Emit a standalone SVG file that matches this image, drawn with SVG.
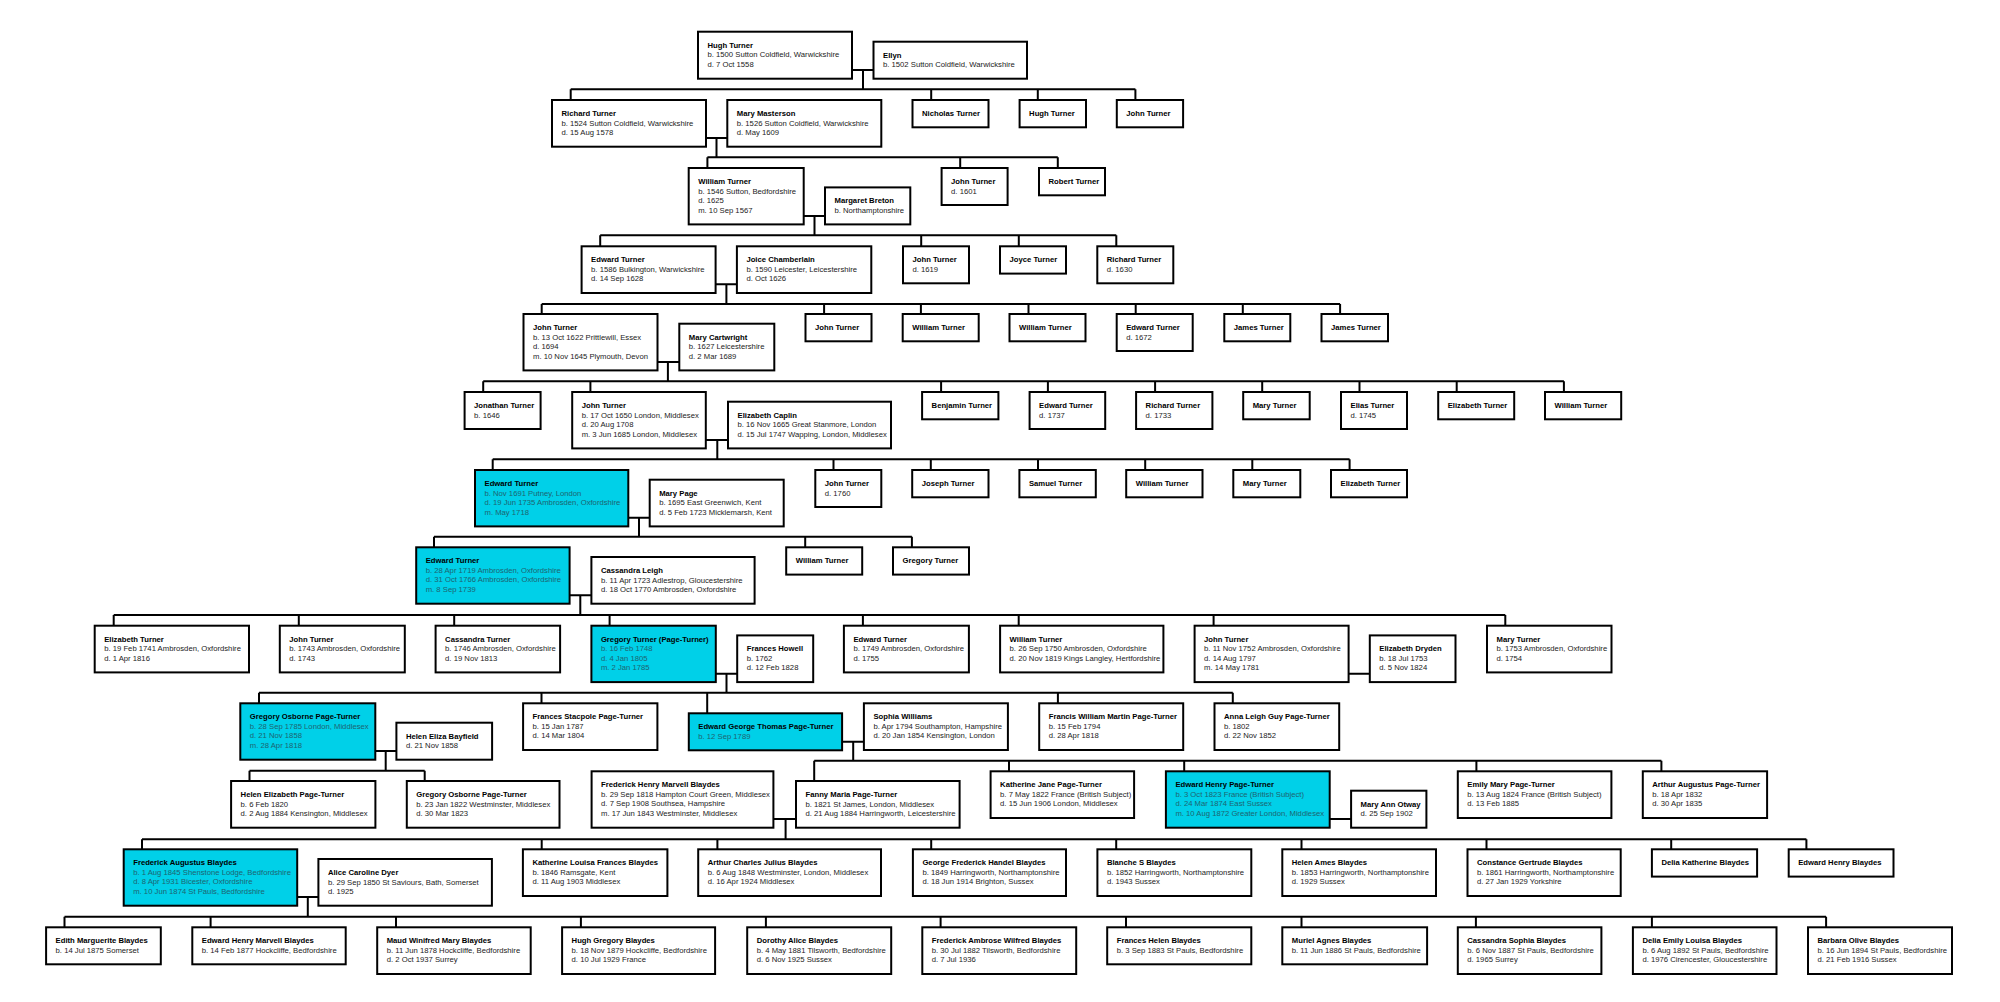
<svg xmlns="http://www.w3.org/2000/svg" width="2000" height="1002" viewBox="0 0 2000 1002">
<style>
.b{fill:#fff;stroke:#000;stroke-width:2}
.c{fill:#00d0e8;stroke:#000;stroke-width:2}
.t{font-family:"Liberation Sans",Arial,sans-serif;font-size:7.7px;fill:#222}
.ct{fill:#1f6470}
.n{font-weight:bold;fill:#000}
.k{fill:none;stroke:#000;stroke-width:2}
</style>
<rect width="2000" height="1002" fill="#fff"/>
<g id="connectors">
<path class="k" d="M852 70H873.5M863 70V89.3M570.7 89.3H1135.4M570.7 89.3V100M931.2 89.3V100M1037.8 89.3V100M1135.4 89.3V100
M706 138H727.3M716.5 138V157.3M707.4 157.3H1057.8M707.4 157.3V168M960.2 157.3V168M1057.8 157.3V168
M803.7 216H825M814.5 216V235.3M600.2 235.3H1116.3M600.2 235.3V246.3M921.2 235.3V246.3M1018.8 235.3V246.3M1116.3 235.3V246.3
M715.6 284.3H736.9M726.4 284.3V304M541.7 304H1340.1M541.7 304V314M824.1 304V314M920.9 304V314M1028.5 304V314M1135.7 304V314M1242.8 304V314M1340.1 304V314
M657.5 362H679.3M667.9 362V381.3M483.2 381.3H1563.9M483.2 381.3V392M590.4 381.3V392M941.1 381.3V392M1047.9 381.3V392M1155.1 381.3V392M1262.2 381.3V392M1359.5 381.3V392M1456.7 381.3V392M1563.9 381.3V392
M705.8 440H728M717.3 440V459.3M492.7 459.3H1349.6M492.7 459.3V470M833.5 459.3V470M930.8 459.3V470M1038 459.3V470M1145.2 459.3V470M1252.3 459.3V470M1349.6 459.3V470
M628.3 517.7H649.7M639 517.7V536.7M434 536.7H911.9M434 536.7V547.3M805.2 536.7V547.3M911.9 536.7V547.3
M569.6 595.3H591.4M580.3 595.3V615M113.7 615H1505.3M113.7 615V625.7M298.8 615V625.7M454.2 615V625.7M609.6 615V625.7M862.9 615V625.7M1018.7 615V625.7M1213.6 615V625.7M1505.3 615V625.7
M715.8 673.7H737.2M726.5 673.7V692.7M1348.6 673.7H1369.8M259 692.7H1232.8M259 692.7V703.3M541.5 692.7V703.3M707.2 692.7V713.3M1057.9 692.7V703.3M1232.8 692.7V703.3
M375.3 751H396.4M385.7 751V770.7M249.5 770.7H424.7M249.5 770.7V781M424.7 770.7V781
M842.1 741.7H863.9M853.2 741.7V760.7M814.2 760.7H1661.4M814.2 760.7V781M1009 760.7V771.3M1184.2 760.7V771.3M1476.4 760.7V771.3M1661.4 760.7V771.3
M773.4 819H796M785.6 819V839.3M1329.7 819H1351.1M142 839.3H1806.4M142 839.3V849.3M541.7 839.3V849.3M717.4 839.3V849.3M931.2 839.3V849.3M1116.2 839.3V849.3M1301.5 839.3V849.3M1486.5 839.3V849.3M1671.2 839.3V849.3M1806.4 839.3V849.3
M297.2 897H318.4M307.8 897V916.7M64.5 916.7H1826.1M64.5 916.7V927.3M210.6 916.7V927.3M396 916.7V927.3M580.9 916.7V927.3M765.9 916.7V927.3M940.6 916.7V927.3M1126 916.7V927.3M1301.5 916.7V927.3M1475.9 916.7V927.3M1651.9 916.7V927.3M1826.1 916.7V927.3"/>
</g>

<g id="hugh-turner-1500"><rect class="b" x="698" y="31.7" width="154" height="47"/><text class="t" x="707.5" y="47.7"><tspan class="n">Hugh Turner</tspan><tspan x="707.5" dy="9.5">b. 1500 Sutton Coldfield, Warwickshire</tspan><tspan x="707.5" dy="9.5">d. 7 Oct 1558</tspan></text></g>
<g id="ellyn"><rect class="b" x="873.5" y="41.7" width="153.5" height="37"/><text class="t" x="883" y="57.7"><tspan class="n">Ellyn</tspan><tspan x="883" dy="9.5">b. 1502 Sutton Coldfield, Warwickshire</tspan></text></g>

<g id="richard-turner-1524"><rect class="b" x="552" y="100" width="154" height="46.7"/><text class="t" x="561.5" y="116"><tspan class="n">Richard Turner</tspan><tspan x="561.5" dy="9.5">b. 1524 Sutton Coldfield, Warwickshire</tspan><tspan x="561.5" dy="9.5">d. 15 Aug 1578</tspan></text></g>
<g id="mary-masterson"><rect class="b" x="727.3" y="100" width="154" height="46.7"/><text class="t" x="736.8" y="116"><tspan class="n">Mary Masterson</tspan><tspan x="736.8" dy="9.5">b. 1526 Sutton Coldfield, Warwickshire</tspan><tspan x="736.8" dy="9.5">d. May 1609</tspan></text></g>
<g id="nicholas-turner"><rect class="b" x="912.5" y="100" width="76" height="27.3"/><text class="t n" x="922" y="116">Nicholas Turner</text></g>
<g id="hugh-turner-2"><rect class="b" x="1019.6" y="100" width="66.4" height="27.3"/><text class="t n" x="1029.1" y="116">Hugh Turner</text></g>
<g id="john-turner-2"><rect class="b" x="1116.8" y="100" width="66.3" height="27.3"/><text class="t n" x="1126.3" y="116">John Turner</text></g>

<g id="william-turner-1546"><rect class="b" x="688.7" y="168" width="115" height="56.4"/><text class="t" x="698.2" y="184"><tspan class="n">William Turner</tspan><tspan x="698.2" dy="9.5">b. 1546 Sutton, Bedfordshire</tspan><tspan x="698.2" dy="9.5">d. 1625</tspan><tspan x="698.2" dy="9.5">m. 10 Sep 1567</tspan></text></g>
<g id="margaret-breton"><rect class="b" x="825" y="187.4" width="85.3" height="37"/><text class="t" x="834.5" y="203.4"><tspan class="n">Margaret Breton</tspan><tspan x="834.5" dy="9.5">b. Northamptonshire</tspan></text></g>
<g id="john-turner-3"><rect class="b" x="941.6" y="168" width="66" height="37"/><text class="t" x="951.1" y="184"><tspan class="n">John Turner</tspan><tspan x="951.1" dy="9.5">d. 1601</tspan></text></g>
<g id="robert-turner"><rect class="b" x="1039" y="168" width="66" height="27.3"/><text class="t n" x="1048.5" y="184">Robert Turner</text></g>

<g id="edward-turner-1586"><rect class="b" x="581.6" y="246.3" width="134" height="46.7"/><text class="t" x="591.1" y="262.3"><tspan class="n">Edward Turner</tspan><tspan x="591.1" dy="9.5">b. 1586 Bulkington, Warwickshire</tspan><tspan x="591.1" dy="9.5">d. 14 Sep 1628</tspan></text></g>
<g id="joice-chamberlain"><rect class="b" x="736.9" y="246.3" width="134.4" height="46.7"/><text class="t" x="746.4" y="262.3"><tspan class="n">Joice Chamberlain</tspan><tspan x="746.4" dy="9.5">b. 1590 Leicester, Leicestershire</tspan><tspan x="746.4" dy="9.5">d. Oct 1626</tspan></text></g>
<g id="john-turner-4"><rect class="b" x="903" y="246.3" width="66" height="37"/><text class="t" x="912.5" y="262.3"><tspan class="n">John Turner</tspan><tspan x="912.5" dy="9.5">d. 1619</tspan></text></g>
<g id="joyce-turner"><rect class="b" x="1000" y="246.3" width="66" height="27.3"/><text class="t n" x="1009.5" y="262.3">Joyce Turner</text></g>
<g id="richard-turner-4"><rect class="b" x="1097.3" y="246.3" width="76" height="37"/><text class="t" x="1106.8" y="262.3"><tspan class="n">Richard Turner</tspan><tspan x="1106.8" dy="9.5">d. 1630</tspan></text></g>

<g id="john-turner-1622"><rect class="b" x="523.5" y="314" width="134" height="56.4"/><text class="t" x="533" y="330"><tspan class="n">John Turner</tspan><tspan x="533" dy="9.5">b. 13 Oct 1622 Prittlewill, Essex</tspan><tspan x="533" dy="9.5">d. 1694</tspan><tspan x="533" dy="9.5">m. 10 Nov 1645 Plymouth, Devon</tspan></text></g>
<g id="mary-cartwright"><rect class="b" x="679.3" y="323.7" width="95" height="46.7"/><text class="t" x="688.8" y="339.7"><tspan class="n">Mary Cartwright</tspan><tspan x="688.8" dy="9.5">b. 1627 Leicestershire</tspan><tspan x="688.8" dy="9.5">d. 2 Mar 1689</tspan></text></g>
<g id="john-turner-5"><rect class="b" x="805.5" y="314" width="66" height="27.3"/><text class="t n" x="815" y="330">John Turner</text></g>
<g id="william-turner-5a"><rect class="b" x="902.7" y="314" width="76" height="27.3"/><text class="t n" x="912.2" y="330">William Turner</text></g>
<g id="william-turner-5b"><rect class="b" x="1009.5" y="314" width="76" height="27.3"/><text class="t n" x="1019" y="330">William Turner</text></g>
<g id="edward-turner-5"><rect class="b" x="1116.7" y="314" width="76" height="37"/><text class="t" x="1126.2" y="330"><tspan class="n">Edward Turner</tspan><tspan x="1126.2" dy="9.5">d. 1672</tspan></text></g>
<g id="james-turner-5a"><rect class="b" x="1224.3" y="314" width="66" height="27.3"/><text class="t n" x="1233.8" y="330">James Turner</text></g>
<g id="james-turner-5b"><rect class="b" x="1321.5" y="314" width="66.5" height="27.3"/><text class="t n" x="1331" y="330">James Turner</text></g>

<g id="jonathan-turner"><rect class="b" x="464.6" y="392" width="76" height="37"/><text class="t" x="474.1" y="408"><tspan class="n">Jonathan Turner</tspan><tspan x="474.1" dy="9.5">b. 1646</tspan></text></g>
<g id="john-turner-1650"><rect class="b" x="572.2" y="392" width="133.6" height="56.4"/><text class="t" x="581.7" y="408"><tspan class="n">John Turner</tspan><tspan x="581.7" dy="9.5">b. 17 Oct 1650 London, Middlesex</tspan><tspan x="581.7" dy="9.5">d. 20 Aug 1708</tspan><tspan x="581.7" dy="9.5">m. 3 Jun 1685 London, Middlesex</tspan></text></g>
<g id="elizabeth-caplin"><rect class="b" x="728" y="401.7" width="163" height="46.7"/><text class="t" x="737.5" y="417.7"><tspan class="n">Elizabeth Caplin</tspan><tspan x="737.5" dy="9.5">b. 16 Nov 1665 Great Stanmore, London</tspan><tspan x="737.5" dy="9.5">d. 15 Jul 1747 Wapping, London, Middlesex</tspan></text></g>
<g id="benjamin-turner"><rect class="b" x="922.1" y="392" width="76.3" height="27.3"/><text class="t n" x="931.6" y="408">Benjamin Turner</text></g>
<g id="edward-turner-6"><rect class="b" x="1029.6" y="392" width="75.6" height="37"/><text class="t" x="1039.1" y="408"><tspan class="n">Edward Turner</tspan><tspan x="1039.1" dy="9.5">d. 1737</tspan></text></g>
<g id="richard-turner-6"><rect class="b" x="1136.1" y="392" width="76.3" height="37"/><text class="t" x="1145.6" y="408"><tspan class="n">Richard Turner</tspan><tspan x="1145.6" dy="9.5">d. 1733</tspan></text></g>
<g id="mary-turner-6"><rect class="b" x="1243.2" y="392" width="66.5" height="27.3"/><text class="t n" x="1252.7" y="408">Mary Turner</text></g>
<g id="elias-turner"><rect class="b" x="1341" y="392" width="66" height="37"/><text class="t" x="1350.5" y="408"><tspan class="n">Elias Turner</tspan><tspan x="1350.5" dy="9.5">d. 1745</tspan></text></g>
<g id="elizabeth-turner-6"><rect class="b" x="1438.2" y="392" width="76" height="27.3"/><text class="t n" x="1447.7" y="408">Elizabeth Turner</text></g>
<g id="william-turner-6"><rect class="b" x="1545" y="392" width="76.2" height="27.3"/><text class="t n" x="1554.5" y="408">William Turner</text></g>

<g id="edward-turner-1691"><rect class="c" x="475" y="470" width="153.3" height="56.4"/><text class="t ct" x="484.5" y="486"><tspan class="n">Edward Turner</tspan><tspan x="484.5" dy="9.5">b. Nov 1691 Putney, London</tspan><tspan x="484.5" dy="9.5">d. 19 Jun 1735 Ambrosden, Oxfordshire</tspan><tspan x="484.5" dy="9.5">m. May 1718</tspan></text></g>
<g id="mary-page"><rect class="b" x="649.7" y="479.7" width="134" height="46.7"/><text class="t" x="659.2" y="495.7"><tspan class="n">Mary Page</tspan><tspan x="659.2" dy="9.5">b. 1695 East Greenwich, Kent</tspan><tspan x="659.2" dy="9.5">d. 5 Feb 1723 Micklemarsh, Kent</tspan></text></g>
<g id="john-turner-7"><rect class="b" x="815.3" y="470" width="66" height="37"/><text class="t" x="824.8" y="486"><tspan class="n">John Turner</tspan><tspan x="824.8" dy="9.5">d. 1760</tspan></text></g>
<g id="joseph-turner"><rect class="b" x="912.2" y="470" width="76.3" height="27.3"/><text class="t n" x="921.7" y="486">Joseph Turner</text></g>
<g id="samuel-turner"><rect class="b" x="1019.4" y="470" width="76.4" height="27.3"/><text class="t n" x="1028.9" y="486">Samuel Turner</text></g>
<g id="william-turner-7"><rect class="b" x="1126.2" y="470" width="76.3" height="27.3"/><text class="t n" x="1135.7" y="486">William Turner</text></g>
<g id="mary-turner-7"><rect class="b" x="1233.3" y="470" width="67" height="27.3"/><text class="t n" x="1242.8" y="486">Mary Turner</text></g>
<g id="elizabeth-turner-7"><rect class="b" x="1331" y="470" width="76" height="27.3"/><text class="t n" x="1340.5" y="486">Elizabeth Turner</text></g>

<g id="edward-turner-1719"><rect class="c" x="416.2" y="547.3" width="153.4" height="56.4"/><text class="t ct" x="425.7" y="563.3"><tspan class="n">Edward Turner</tspan><tspan x="425.7" dy="9.5">b. 28 Apr 1719 Ambrosden, Oxfordshire</tspan><tspan x="425.7" dy="9.5">d. 31 Oct 1766 Ambrosden, Oxfordshire</tspan><tspan x="425.7" dy="9.5">m. 8 Sep 1739</tspan></text></g>
<g id="cassandra-leigh"><rect class="b" x="591.4" y="557" width="163.2" height="46.7"/><text class="t" x="600.9" y="573"><tspan class="n">Cassandra Leigh</tspan><tspan x="600.9" dy="9.5">b. 11 Apr 1723 Adlestrop, Gloucestershire</tspan><tspan x="600.9" dy="9.5">d. 18 Oct 1770 Ambrosden, Oxfordshire</tspan></text></g>
<g id="william-turner-8"><rect class="b" x="786.2" y="547.3" width="76" height="27.3"/><text class="t n" x="795.7" y="563.3">William Turner</text></g>
<g id="gregory-turner-8"><rect class="b" x="893" y="547.3" width="76" height="27.3"/><text class="t n" x="902.5" y="563.3">Gregory Turner</text></g>

<g id="elizabeth-turner-1741"><rect class="b" x="94.7" y="625.7" width="154.3" height="46.7"/><text class="t" x="104.2" y="641.7"><tspan class="n">Elizabeth Turner</tspan><tspan x="104.2" dy="9.5">b. 19 Feb 1741 Ambrosden, Oxfordshire</tspan><tspan x="104.2" dy="9.5">d. 1 Apr 1816</tspan></text></g>
<g id="john-turner-1743"><rect class="b" x="279.8" y="625.7" width="125" height="46.7"/><text class="t" x="289.3" y="641.7"><tspan class="n">John Turner</tspan><tspan x="289.3" dy="9.5">b. 1743 Ambrosden, Oxfordshire</tspan><tspan x="289.3" dy="9.5">d. 1743</tspan></text></g>
<g id="cassandra-turner"><rect class="b" x="435.6" y="625.7" width="124.5" height="46.7"/><text class="t" x="445.1" y="641.7"><tspan class="n">Cassandra Turner</tspan><tspan x="445.1" dy="9.5">b. 1746 Ambrosden, Oxfordshire</tspan><tspan x="445.1" dy="9.5">d. 19 Nov 1813</tspan></text></g>
<g id="gregory-turner-page-turner"><rect class="c" x="591.4" y="625.7" width="124.4" height="56.4"/><text class="t ct" x="600.9" y="641.7"><tspan class="n">Gregory Turner (Page-Turner)</tspan><tspan x="600.9" dy="9.5">b. 16 Feb 1748</tspan><tspan x="600.9" dy="9.5">d. 4 Jan 1805</tspan><tspan x="600.9" dy="9.5">m. 2 Jan 1785</tspan></text></g>
<g id="frances-howell"><rect class="b" x="737.2" y="635.4" width="76" height="46.7"/><text class="t" x="746.7" y="651.4"><tspan class="n">Frances Howell</tspan><tspan x="746.7" dy="9.5">b. 1762</tspan><tspan x="746.7" dy="9.5">d. 12 Feb 1828</tspan></text></g>
<g id="edward-turner-1749"><rect class="b" x="843.9" y="625.7" width="125" height="46.7"/><text class="t" x="853.4" y="641.7"><tspan class="n">Edward Turner</tspan><tspan x="853.4" dy="9.5">b. 1749 Ambrosden, Oxfordshire</tspan><tspan x="853.4" dy="9.5">d. 1755</tspan></text></g>
<g id="william-turner-1750"><rect class="b" x="1000.1" y="625.7" width="163.3" height="46.7"/><text class="t" x="1009.6" y="641.7"><tspan class="n">William Turner</tspan><tspan x="1009.6" dy="9.5">b. 26 Sep 1750 Ambrosden, Oxfordshire</tspan><tspan x="1009.6" dy="9.5">d. 20 Nov 1819 Kings Langley, Hertfordshire</tspan></text></g>
<g id="john-turner-1752"><rect class="b" x="1194.6" y="625.7" width="154" height="56.4"/><text class="t" x="1204.1" y="641.7"><tspan class="n">John Turner</tspan><tspan x="1204.1" dy="9.5">b. 11 Nov 1752 Ambrosden, Oxfordshire</tspan><tspan x="1204.1" dy="9.5">d. 14 Aug 1797</tspan><tspan x="1204.1" dy="9.5">m. 14 May 1781</tspan></text></g>
<g id="elizabeth-dryden"><rect class="b" x="1369.8" y="635.4" width="85.7" height="46.7"/><text class="t" x="1379.3" y="651.4"><tspan class="n">Elizabeth Dryden</tspan><tspan x="1379.3" dy="9.5">b. 18 Jul 1753</tspan><tspan x="1379.3" dy="9.5">d. 5 Nov 1824</tspan></text></g>
<g id="mary-turner-1753"><rect class="b" x="1487" y="625.7" width="124.5" height="46.7"/><text class="t" x="1496.5" y="641.7"><tspan class="n">Mary Turner</tspan><tspan x="1496.5" dy="9.5">b. 1753 Ambrosden, Oxfordshire</tspan><tspan x="1496.5" dy="9.5">d. 1754</tspan></text></g>

<g id="gregory-osborne-page-turner-1785"><rect class="c" x="240.3" y="703.3" width="135" height="56.4"/><text class="t ct" x="249.8" y="719.3"><tspan class="n">Gregory Osborne Page-Turner</tspan><tspan x="249.8" dy="9.5">b. 28 Sep 1785 London, Middlesex</tspan><tspan x="249.8" dy="9.5">d. 21 Nov 1858</tspan><tspan x="249.8" dy="9.5">m. 28 Apr 1818</tspan></text></g>
<g id="helen-eliza-bayfield"><rect class="b" x="396.4" y="722.7" width="95.7" height="37"/><text class="t" x="405.9" y="738.7"><tspan class="n">Helen Eliza Bayfield</tspan><tspan x="405.9" dy="9.5">d. 21 Nov 1858</tspan></text></g>
<g id="frances-stacpole-page-turner"><rect class="b" x="523.1" y="703.3" width="134.3" height="46.7"/><text class="t" x="532.6" y="719.3"><tspan class="n">Frances Stacpole Page-Turner</tspan><tspan x="532.6" dy="9.5">b. 15 Jan 1787</tspan><tspan x="532.6" dy="9.5">d. 14 Mar 1804</tspan></text></g>
<g id="edward-george-thomas-page-turner"><rect class="c" x="688.8" y="713.3" width="153.3" height="37"/><text class="t ct" x="698.3" y="729.3"><tspan class="n">Edward George Thomas Page-Turner</tspan><tspan x="698.3" dy="9.5">b. 12 Sep 1789</tspan></text></g>
<g id="sophia-williams"><rect class="b" x="863.9" y="703.3" width="144" height="46.7"/><text class="t" x="873.4" y="719.3"><tspan class="n">Sophia Williams</tspan><tspan x="873.4" dy="9.5">b. Apr 1794 Southampton, Hampshire</tspan><tspan x="873.4" dy="9.5">d. 20 Jan 1854 Kensington, London</tspan></text></g>
<g id="francis-william-martin-page-turner"><rect class="b" x="1039.2" y="703.3" width="144" height="46.7"/><text class="t" x="1048.7" y="719.3"><tspan class="n">Francis William Martin Page-Turner</tspan><tspan x="1048.7" dy="9.5">b. 15 Feb 1794</tspan><tspan x="1048.7" dy="9.5">d. 28 Apr 1818</tspan></text></g>
<g id="anna-leigh-guy-page-turner"><rect class="b" x="1214.5" y="703.3" width="124.7" height="46.7"/><text class="t" x="1224" y="719.3"><tspan class="n">Anna Leigh Guy Page-Turner</tspan><tspan x="1224" dy="9.5">b. 1802</tspan><tspan x="1224" dy="9.5">d. 22 Nov 1852</tspan></text></g>

<g id="helen-elizabeth-page-turner"><rect class="b" x="231.1" y="781" width="144.3" height="46.7"/><text class="t" x="240.6" y="797"><tspan class="n">Helen Elizabeth Page-Turner</tspan><tspan x="240.6" dy="9.5">b. 6 Feb 1820</tspan><tspan x="240.6" dy="9.5">d. 2 Aug 1884 Kensington, Middlesex</tspan></text></g>
<g id="gregory-osborne-page-turner-1822"><rect class="b" x="406.8" y="781" width="152.7" height="46.7"/><text class="t" x="416.3" y="797"><tspan class="n">Gregory Osborne Page-Turner</tspan><tspan x="416.3" dy="9.5">b. 23 Jan 1822 Westminster, Middlesex</tspan><tspan x="416.3" dy="9.5">d. 30 Mar 1823</tspan></text></g>
<g id="frederick-henry-marvell-blaydes"><rect class="b" x="591.6" y="771.3" width="181.8" height="56.4"/><text class="t" x="601.1" y="787.3"><tspan class="n">Frederick Henry Marvell Blaydes</tspan><tspan x="601.1" dy="9.5">b. 29 Sep 1818 Hampton Court Green, Middlesex</tspan><tspan x="601.1" dy="9.5">d. 7 Sep 1908 Southsea, Hampshire</tspan><tspan x="601.1" dy="9.5">m. 17 Jun 1843 Westminster, Middlesex</tspan></text></g>
<g id="fanny-maria-page-turner"><rect class="b" x="796" y="781" width="163.6" height="46.7"/><text class="t" x="805.5" y="797"><tspan class="n">Fanny Maria Page-Turner</tspan><tspan x="805.5" dy="9.5">b. 1821 St James, London, Middlesex</tspan><tspan x="805.5" dy="9.5">d. 21 Aug 1884 Harringworth, Leicestershire</tspan></text></g>
<g id="katherine-jane-page-turner"><rect class="b" x="990.6" y="771.3" width="143.5" height="46.7"/><text class="t" x="1000.1" y="787.3"><tspan class="n">Katherine Jane Page-Turner</tspan><tspan x="1000.1" dy="9.5">b. 7 May 1822 France (British Subject)</tspan><tspan x="1000.1" dy="9.5">d. 15 Jun 1906 London, Middlesex</tspan></text></g>
<g id="edward-henry-page-turner"><rect class="c" x="1165.9" y="771.3" width="163.8" height="56.4"/><text class="t ct" x="1175.4" y="787.3"><tspan class="n">Edward Henry Page-Turner</tspan><tspan x="1175.4" dy="9.5">b. 3 Oct 1823 France (British Subject)</tspan><tspan x="1175.4" dy="9.5">d. 24 Mar 1874 East Sussex</tspan><tspan x="1175.4" dy="9.5">m. 10 Aug 1872 Greater London, Middlesex</tspan></text></g>
<g id="mary-ann-otway"><rect class="b" x="1351.1" y="790.7" width="75.3" height="37"/><text class="t" x="1360.6" y="806.7"><tspan class="n">Mary Ann Otway</tspan><tspan x="1360.6" dy="9.5">d. 25 Sep 1902</tspan></text></g>
<g id="emily-mary-page-turner"><rect class="b" x="1457.8" y="771.3" width="153.6" height="46.7"/><text class="t" x="1467.3" y="787.3"><tspan class="n">Emily Mary Page-Turner</tspan><tspan x="1467.3" dy="9.5">b. 13 Aug 1824 France (British Subject)</tspan><tspan x="1467.3" dy="9.5">d. 13 Feb 1885</tspan></text></g>
<g id="arthur-augustus-page-turner"><rect class="b" x="1642.8" y="771.3" width="124.3" height="46.7"/><text class="t" x="1652.3" y="787.3"><tspan class="n">Arthur Augustus Page-Turner</tspan><tspan x="1652.3" dy="9.5">b. 18 Apr 1832</tspan><tspan x="1652.3" dy="9.5">d. 30 Apr 1835</tspan></text></g>

<g id="frederick-augustus-blaydes"><rect class="c" x="123.7" y="849.3" width="173.5" height="56.4"/><text class="t ct" x="133.2" y="865.3"><tspan class="n">Frederick Augustus Blaydes</tspan><tspan x="133.2" dy="9.5">b. 1 Aug 1845 Shenstone Lodge, Bedfordshire</tspan><tspan x="133.2" dy="9.5">d. 8 Apr 1931 Bicester, Oxfordshire</tspan><tspan x="133.2" dy="9.5">m. 10 Jun 1874 St Pauls, Bedfordshire</tspan></text></g>
<g id="alice-caroline-dyer"><rect class="b" x="318.4" y="859" width="173.5" height="46.7"/><text class="t" x="327.9" y="875"><tspan class="n">Alice Caroline Dyer</tspan><tspan x="327.9" dy="9.5">b. 29 Sep 1850 St Saviours, Bath, Somerset</tspan><tspan x="327.9" dy="9.5">d. 1925</tspan></text></g>
<g id="katherine-louisa-frances-blaydes"><rect class="b" x="522.9" y="849.3" width="144.5" height="46.7"/><text class="t" x="532.4" y="865.3"><tspan class="n">Katherine Louisa Frances Blaydes</tspan><tspan x="532.4" dy="9.5">b. 1846 Ramsgate, Kent</tspan><tspan x="532.4" dy="9.5">d. 11 Aug 1903 Middlesex</tspan></text></g>
<g id="arthur-charles-julius-blaydes"><rect class="b" x="698.2" y="849.3" width="182.8" height="46.7"/><text class="t" x="707.7" y="865.3"><tspan class="n">Arthur Charles Julius Blaydes</tspan><tspan x="707.7" dy="9.5">b. 6 Aug 1848 Westminster, London, Middlesex</tspan><tspan x="707.7" dy="9.5">d. 16 Apr 1924 Middlesex</tspan></text></g>
<g id="george-frederick-handel-blaydes"><rect class="b" x="912.9" y="849.3" width="153.1" height="46.7"/><text class="t" x="922.4" y="865.3"><tspan class="n">George Frederick Handel Blaydes</tspan><tspan x="922.4" dy="9.5">b. 1849 Harringworth, Northamptonshire</tspan><tspan x="922.4" dy="9.5">d. 18 Jun 1914 Brighton, Sussex</tspan></text></g>
<g id="blanche-s-blaydes"><rect class="b" x="1097.4" y="849.3" width="153.9" height="46.7"/><text class="t" x="1106.9" y="865.3"><tspan class="n">Blanche S Blaydes</tspan><tspan x="1106.9" dy="9.5">b. 1852 Harringworth, Northamptonshire</tspan><tspan x="1106.9" dy="9.5">d. 1943 Sussex</tspan></text></g>
<g id="helen-ames-blaydes"><rect class="b" x="1282.3" y="849.3" width="153.7" height="46.7"/><text class="t" x="1291.8" y="865.3"><tspan class="n">Helen Ames Blaydes</tspan><tspan x="1291.8" dy="9.5">b. 1853 Harringworth, Northamptonshire</tspan><tspan x="1291.8" dy="9.5">d. 1929 Sussex</tspan></text></g>
<g id="constance-gertrude-blaydes"><rect class="b" x="1467.5" y="849.3" width="153.2" height="46.7"/><text class="t" x="1477" y="865.3"><tspan class="n">Constance Gertrude Blaydes</tspan><tspan x="1477" dy="9.5">b. 1861 Harringworth, Northamptonshire</tspan><tspan x="1477" dy="9.5">d. 27 Jan 1929 Yorkshire</tspan></text></g>
<g id="delia-katherine-blaydes"><rect class="b" x="1651.9" y="849.3" width="105.2" height="27.3"/><text class="t n" x="1661.4" y="865.3">Delia Katherine Blaydes</text></g>
<g id="edward-henry-blaydes"><rect class="b" x="1788.7" y="849.3" width="104.8" height="27.3"/><text class="t n" x="1798.2" y="865.3">Edward Henry Blaydes</text></g>

<g id="edith-marguerite-blaydes"><rect class="b" x="46.1" y="927.3" width="114.7" height="37"/><text class="t" x="55.6" y="943.3"><tspan class="n">Edith Marguerite Blaydes</tspan><tspan x="55.6" dy="9.5">b. 14 Jul 1875 Somerset</tspan></text></g>
<g id="edward-henry-marvell-blaydes"><rect class="b" x="192.3" y="927.3" width="153.4" height="37"/><text class="t" x="201.8" y="943.3"><tspan class="n">Edward Henry Marvell Blaydes</tspan><tspan x="201.8" dy="9.5">b. 14 Feb 1877 Hockcliffe, Bedfordshire</tspan></text></g>
<g id="maud-winifred-mary-blaydes"><rect class="b" x="377.2" y="927.3" width="153.5" height="46.7"/><text class="t" x="386.7" y="943.3"><tspan class="n">Maud Winifred Mary Blaydes</tspan><tspan x="386.7" dy="9.5">b. 11 Jun 1878 Hockcliffe, Bedfordshire</tspan><tspan x="386.7" dy="9.5">d. 2 Oct 1937 Surrey</tspan></text></g>
<g id="hugh-gregory-blaydes"><rect class="b" x="562.1" y="927.3" width="153" height="46.7"/><text class="t" x="571.6" y="943.3"><tspan class="n">Hugh Gregory Blaydes</tspan><tspan x="571.6" dy="9.5">b. 18 Nov 1879 Hockcliffe, Bedfordshire</tspan><tspan x="571.6" dy="9.5">d. 10 Jul 1929 France</tspan></text></g>
<g id="dorothy-alice-blaydes"><rect class="b" x="747.2" y="927.3" width="144" height="46.7"/><text class="t" x="756.7" y="943.3"><tspan class="n">Dorothy Alice Blaydes</tspan><tspan x="756.7" dy="9.5">b. 4 May 1881 Tilsworth, Bedfordshire</tspan><tspan x="756.7" dy="9.5">d. 6 Nov 1925 Sussex</tspan></text></g>
<g id="frederick-ambrose-wilfred-blaydes"><rect class="b" x="922.3" y="927.3" width="153.9" height="46.7"/><text class="t" x="931.8" y="943.3"><tspan class="n">Frederick Ambrose Wilfred Blaydes</tspan><tspan x="931.8" dy="9.5">b. 30 Jul 1882 Tilsworth, Bedfordshire</tspan><tspan x="931.8" dy="9.5">d. 7 Jul 1936</tspan></text></g>
<g id="frances-helen-blaydes"><rect class="b" x="1107.2" y="927.3" width="144.1" height="37"/><text class="t" x="1116.7" y="943.3"><tspan class="n">Frances Helen Blaydes</tspan><tspan x="1116.7" dy="9.5">b. 3 Sep 1883 St Pauls, Bedfordshire</tspan></text></g>
<g id="muriel-agnes-blaydes"><rect class="b" x="1282.3" y="927.3" width="144.8" height="37"/><text class="t" x="1291.8" y="943.3"><tspan class="n">Muriel Agnes Blaydes</tspan><tspan x="1291.8" dy="9.5">b. 11 Jun 1886 St Pauls, Bedfordshire</tspan></text></g>
<g id="cassandra-sophia-blaydes"><rect class="b" x="1457.8" y="927.3" width="143.6" height="46.7"/><text class="t" x="1467.3" y="943.3"><tspan class="n">Cassandra Sophia Blaydes</tspan><tspan x="1467.3" dy="9.5">b. 6 Nov 1887 St Pauls, Bedfordshire</tspan><tspan x="1467.3" dy="9.5">d. 1965 Surrey</tspan></text></g>
<g id="delia-emily-louisa-blaydes"><rect class="b" x="1632.9" y="927.3" width="143.6" height="46.7"/><text class="t" x="1642.4" y="943.3"><tspan class="n">Delia Emily Louisa Blaydes</tspan><tspan x="1642.4" dy="9.5">b. 6 Aug 1892 St Pauls, Bedfordshire</tspan><tspan x="1642.4" dy="9.5">d. 1976 Cirencester, Gloucestershire</tspan></text></g>
<g id="barbara-olive-blaydes"><rect class="b" x="1808" y="927.3" width="144" height="46.7"/><text class="t" x="1817.5" y="943.3"><tspan class="n">Barbara Olive Blaydes</tspan><tspan x="1817.5" dy="9.5">b. 16 Jun 1894 St Pauls, Bedfordshire</tspan><tspan x="1817.5" dy="9.5">d. 21 Feb 1916 Sussex</tspan></text></g>
</svg>
